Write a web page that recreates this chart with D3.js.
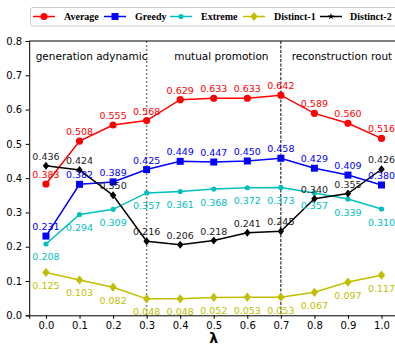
<!DOCTYPE html>
<html>
<head>
<meta charset="utf-8">
<script src="https://cdn.jsdelivr.net/npm/d3@7"></script>
<style>
  body { margin: 0; background: #fff; }
  svg { display: block; overflow: hidden; }
  .tick text { font-family: "DejaVu Sans", sans-serif; font-size: 10px; fill: #000; }
  .lbl { font-family: "DejaVu Sans", sans-serif; font-size: 9.5px; }
  .region { font-family: "DejaVu Sans", sans-serif; font-size: 10.5px; fill: #000; }
  .legend text { font-family: "Liberation Serif", serif; font-weight: bold; font-size: 10px; }
</style>
</head>
<body>
<div id="graphic"></div>
<script>
var width = 395,
    height = 347;

var margin = { top: 41, right: -3.3, bottom: 31.7, left: 29.2 };

var lambdas = [0.0, 0.1, 0.2, 0.3, 0.4, 0.5, 0.6, 0.7, 0.8, 0.9, 1.0];
var average   = [0.383, 0.508, 0.555, 0.568, 0.629, 0.633, 0.633, 0.642, 0.589, 0.560, 0.516];
var greedy    = [0.231, 0.382, 0.389, 0.425, 0.449, 0.447, 0.450, 0.458, 0.429, 0.409, 0.380];
var extreme   = [0.208, 0.294, 0.309, 0.357, 0.361, 0.368, 0.372, 0.373, 0.357, 0.339, 0.310];
var distinct1 = [0.125, 0.103, 0.082, 0.048, 0.048, 0.052, 0.053, 0.053, 0.067, 0.097, 0.117];
var distinct2 = [0.436, 0.424, 0.350, 0.216, 0.206, 0.218, 0.241, 0.245, 0.340, 0.355, 0.426];
var yTicks = [0.0, 0.1, 0.2, 0.3, 0.4, 0.5, 0.6, 0.7, 0.8];
var regions = ["generation adynamic", "mutual promotion", "reconstruction rout"];
var splits = [0.3, 0.7];

var series = [
  { name: "Average",    values: average,   color: "#ff0000", marker: "circle",  size: 3.6, below: false },
  { name: "Greedy",     values: greedy,    color: "#0000ff", marker: "square",  size: 3.5, below: false },
  { name: "Extreme",    values: extreme,   color: "#00bfbf", marker: "circle",  size: 2.6, below: true },
  { name: "Distinct-1", values: distinct1, color: "#bfbf00", marker: "diamond", size: 4.6, below: true },
  { name: "Distinct-2", values: distinct2, color: "#000000", marker: "diamond", size: 4.0, below: false }
];

var svg = d3.select("#graphic")
    .append("svg")
    .attr("width", width)
    .attr("height", height);

var w = width - margin.left - margin.right,
    h = height - margin.top - margin.bottom;

var x = d3.scaleLinear().domain([-0.05, 1.05]).range([0, w]);
var y = d3.scaleLinear().domain([0, 0.8]).range([h, 0]);

var g = svg.append("g")
    .attr("transform", "translate(" + margin.left + "," + margin.top + ")");

// split lines
g.append("line")
    .attr("x1", x(splits[0])).attr("x2", x(splits[0]))
    .attr("y1", 0).attr("y2", h)
    .attr("stroke", "#808080").attr("stroke-width", 1.5)
    .attr("stroke-dasharray", "2,2");
g.append("line")
    .attr("x1", x(splits[1])).attr("x2", x(splits[1]))
    .attr("y1", 0).attr("y2", h)
    .attr("stroke", "#000").attr("stroke-width", 1)
    .attr("stroke-dasharray", "3,1.5");

var line = d3.line()
    .x(function(d, i) { return x(lambdas[i]); })
    .y(function(d) { return y(d); });

function markerPath(type, s) {
  if (type == "square") return "M" + (-s) + "," + (-s) + "h" + 2 * s + "v" + 2 * s + "h" + (-2 * s) + "Z";
  if (type == "diamond") return "M0," + (-s) + "L" + (s * 0.8) + ",0L0," + s + "L" + (-s * 0.8) + ",0Z";
  return d3.arc()({ innerRadius: 0, outerRadius: s, startAngle: 0, endAngle: 2 * Math.PI });
}

series.forEach(function(s) {
  g.append("path")
      .datum(s.values)
      .attr("fill", "none")
      .attr("stroke", s.color)
      .attr("stroke-width", 1.5)
      .attr("d", line);

  g.selectAll(null)
      .data(s.values)
      .enter().append("path")
      .attr("transform", function(d, i) { return "translate(" + x(lambdas[i]) + "," + y(d) + ")"; })
      .attr("d", markerPath(s.marker, s.size))
      .attr("fill", s.color);
});

series.forEach(function(s) {
  g.selectAll(null)
      .data(s.values)
      .enter().append("text")
      .attr("class", "lbl")
      .attr("x", function(d, i) { return x(lambdas[i]); })
      .attr("y", function(d) { return y(d) + (s.below ? 16.5 : -6); })
      .attr("text-anchor", "middle")
      .attr("fill", s.color == "#000000" ? "#222" : s.color)
      .text(function(d) { return d.toFixed(3); });
});

// region names
var regionX = [6.5, 145, 262.5];
g.selectAll(".region")
    .data(regions)
    .enter().append("text")
    .attr("class", "region")
    .attr("x", function(d, i) { return regionX[i]; })
    .attr("y", 19)
    .text(function(d) { return d; });

// axes
g.append("g")
    .attr("transform", "translate(0," + h + ")")
    .call(d3.axisBottom(x).tickValues(lambdas).tickSize(3.5).tickPadding(3.5).tickFormat(d3.format(".1f")));
g.append("g")
    .call(d3.axisLeft(y).tickValues(yTicks).tickSize(3.5).tickPadding(3.5).tickFormat(d3.format(".1f")));
g.selectAll(".domain").attr("stroke", "#000");
g.append("line")
    .attr("x1", 0).attr("x2", w).attr("y1", 0).attr("y2", 0)
    .attr("stroke", "#000");
g.selectAll(".tick line").attr("stroke", "#000");

svg.append("text")
    .attr("x", margin.left + x(0.5))
    .attr("y", 343)
    .attr("text-anchor", "middle")
    .attr("font-family", "DejaVu Sans, sans-serif")
    .attr("font-weight", "bold")
    .attr("font-size", 14)
    .text("λ");

// legend
var legend = svg.append("g").attr("class", "legend");
legend.append("rect")
    .attr("x", 30.5).attr("y", 7.5)
    .attr("width", 380).attr("height", 18.5)
    .attr("rx", 2.5)
    .attr("fill", "#fff").attr("stroke", "#ccc");
var legendX = [33, 104, 170, 243, 320];
series.forEach(function(s, i) {
  var lx = legendX[i];
  legend.append("line")
      .attr("x1", lx).attr("x2", lx + 22).attr("y1", 16.5).attr("y2", 16.5)
      .attr("stroke", s.color).attr("stroke-width", 1.5);
  legend.append("path")
      .attr("transform", "translate(" + (lx + 11) + ",16.5)")
      .attr("d", s.name == "Distinct-2" ? d3.symbol(d3.symbolStar, 14)() : markerPath(s.marker, s.size))
      .attr("fill", s.color);
  legend.append("text")
      .attr("x", lx + (i == 4 ? 30 : 31))
      .attr("y", 20)
      .attr("fill", "#000")
      .text(s.name);
});
</script>
</body>
</html>
